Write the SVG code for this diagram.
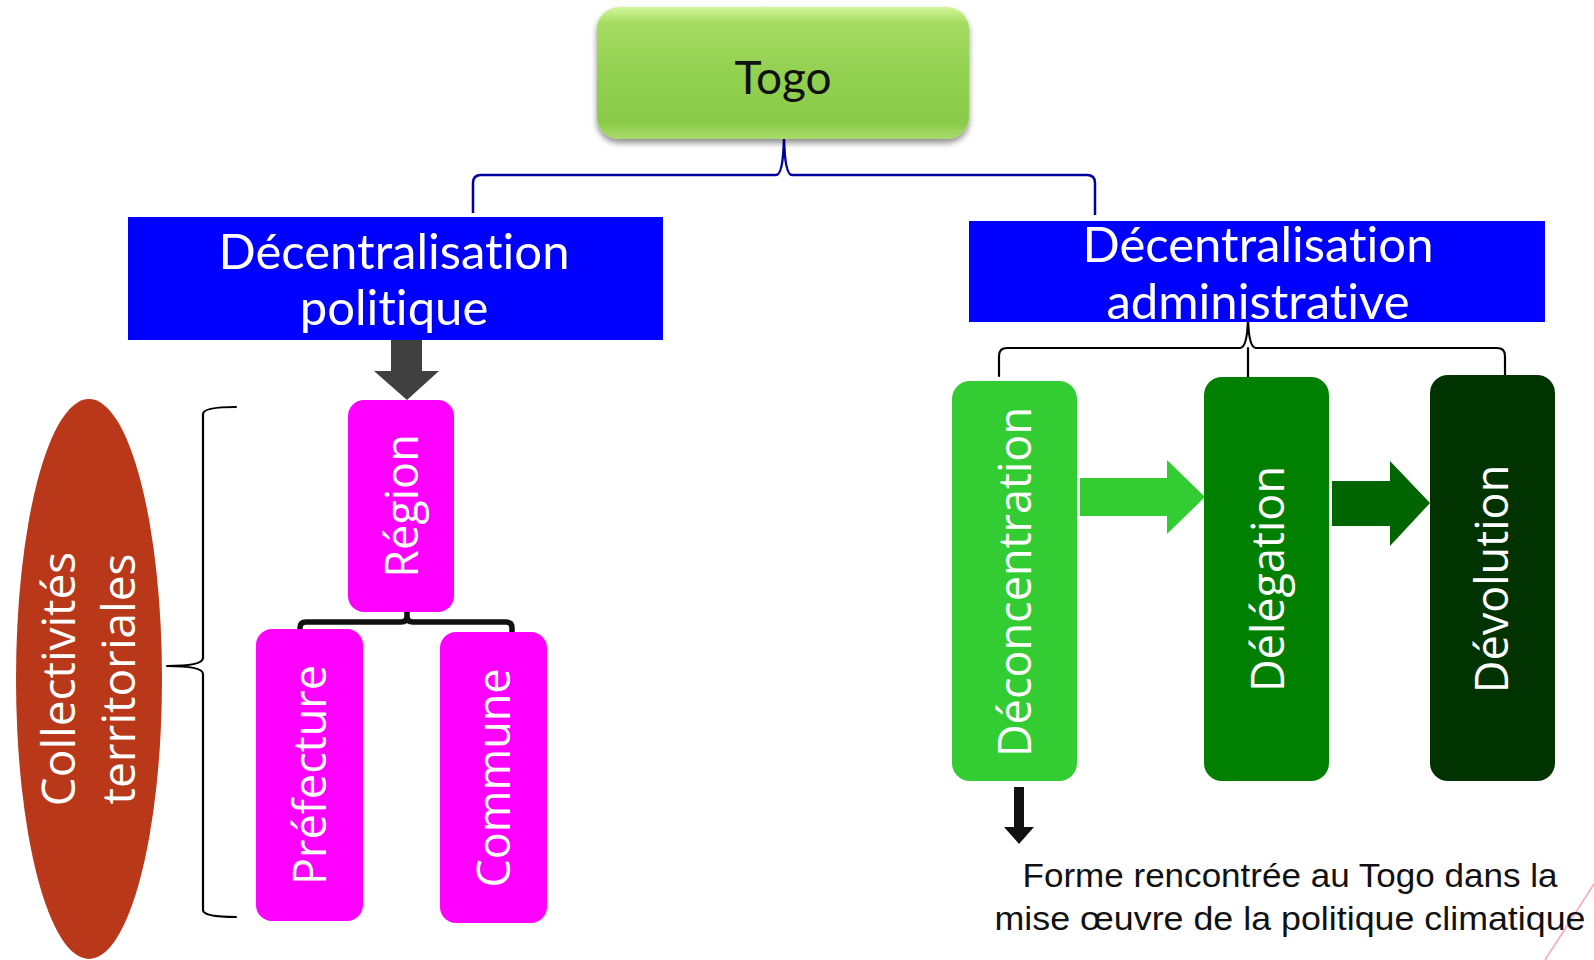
<svg xmlns="http://www.w3.org/2000/svg" width="1594" height="960" viewBox="0 0 1594 960">
<defs>
<linearGradient id="togoGrad" x1="0" y1="0" x2="0" y2="1">
<stop offset="0" stop-color="#D4F59A"/>
<stop offset="0.12" stop-color="#A6DC62"/>
<stop offset="0.5" stop-color="#92D050"/>
<stop offset="0.88" stop-color="#8CCB4A"/>
<stop offset="1" stop-color="#A8DC6A"/>
</linearGradient>
<filter id="shadow" x="-10%" y="-10%" width="120%" height="130%">
<feGaussianBlur in="SourceAlpha" stdDeviation="3"/>
<feOffset dx="0" dy="4"/>
<feComponentTransfer><feFuncA type="linear" slope="0.45"/></feComponentTransfer>
<feMerge><feMergeNode/><feMergeNode in="SourceGraphic"/></feMerge>
</filter>
<style>
text{font-variant-ligatures:none}
.blue{fill:#0000FF}
.bt{font-family:Lato,"Open Sans",sans-serif;font-size:49px;fill:#FFFFFF;text-anchor:middle}
.vt{font-family:"Open Sans","Noto Sans",sans-serif;font-size:45px;fill:#FFFFFF;text-anchor:middle}
.pink{fill:#FF00FF}
.thin{fill:none;stroke:#000000;stroke-width:2.2;stroke-linecap:round;stroke-linejoin:round}
.note{font-family:"Liberation Sans",sans-serif;font-size:34px;fill:#111111;text-anchor:middle}
</style>
</defs>
<rect width="1594" height="960" fill="#FFFFFF"/>

<g id="connectors">
<path d="M473,213 L473,183 Q473,175 481,175 L776,175 Q783,175 784,139 Q785,175 792,175 L1087,175 Q1095,175 1095,183 L1095,215" fill="none" stroke="#0000A0" stroke-width="2.5"/>
<path d="M391,340 L422,340 L422,371 L439,371 L407,400 L374,371 L391,371 Z" fill="#404040"/>
<path d="M407,605 L407,616 Q407,622 401,622 L306,622 Q300,622 300,628 L300,640 M407,616 Q407,622 413,622 L506,622 Q512,622 512,628 L512,640" fill="none" stroke="#111111" stroke-width="5.5" stroke-linecap="round" stroke-linejoin="round"/>
<path class="thin" d="M236,407 Q203,407 203,414 L203,658 Q203,666 167,666 Q203,666 203,674 L203,910 Q203,917 236,917"/>
<path class="thin" d="M999,376 L999,356 Q999,348 1007,348 L1240,348 Q1247,348 1248,320 Q1249,348 1256,348 L1497,348 Q1505,348 1505,356 L1505,376"/>
<path class="thin" d="M1248,348 L1248,378"/>
<path d="M1080,478 L1167,478 L1167,460 L1205,497 L1167,534 L1167,516 L1080,516 Z" fill="#33CC33"/>
<path d="M1332,481 L1390,481 L1390,461 L1430,503 L1390,546 L1390,526 L1332,526 Z" fill="#006400"/>
<path d="M1014,787 L1024,787 L1024,827 L1034,827 L1019,844 L1004,827 L1014,827 Z" fill="#111111"/>
<line x1="1594" y1="884" x2="1545" y2="960" stroke="#F4A8C8" stroke-width="1.5"/>
</g>

<g id="togo">
<rect x="597" y="7" width="372" height="132" rx="22" fill="url(#togoGrad)" filter="url(#shadow)"/>
<text x="783" y="94" style="font-family:Lato,'Open Sans',sans-serif;font-size:46px;fill:#111111;text-anchor:middle">Togo</text>
</g>

<g id="dec-politique">
<rect class="blue" x="128" y="217" width="535" height="123"/>
<text class="bt" x="394" y="269">Décentralisation</text>
<text class="bt" x="394" y="325">politique</text>
</g>

<g id="dec-administrative">
<rect class="blue" x="969" y="221" width="576" height="101"/>
<text class="bt" x="1258" y="262">Décentralisation</text>
<text class="bt" x="1258" y="319">administrative</text>
</g>

<g id="collectivites">
<ellipse cx="89" cy="679" rx="73" ry="280" fill="#B9381A"/>
<text class="vt" style="font-size:46px" transform="translate(89,679) rotate(-90)"><tspan x="0" y="-14">Collectivités</tspan><tspan x="0" y="46">territoriales</tspan></text>
</g>

<g id="region">
<rect class="pink" x="348" y="400" width="106" height="212" rx="16"/>
<text class="vt" transform="translate(402,506) rotate(-90)" y="16">Région</text>
</g>

<g id="prefecture">
<rect class="pink" x="256" y="629" width="107" height="292" rx="16"/>
<text class="vt" transform="translate(310,775) rotate(-90)" y="16">Préfecture</text>
</g>

<g id="commune">
<rect class="pink" x="440" y="632" width="107" height="291" rx="16"/>
<text class="vt" transform="translate(494,778) rotate(-90)" y="16">Commune</text>
</g>

<g id="deconcentration">
<rect x="952" y="381" width="125" height="400" rx="18" fill="#33CC33"/>
<text class="vt" transform="translate(1015,582) rotate(-90)" y="16">Déconcentration</text>
</g>

<g id="delegation">
<rect x="1204" y="377" width="125" height="404" rx="18" fill="#007F00"/>
<text class="vt" transform="translate(1268,579) rotate(-90)" y="16">Délégation</text>
</g>

<g id="devolution">
<rect x="1430" y="375" width="125" height="406" rx="18" fill="#003300"/>
<text class="vt" transform="translate(1492,579) rotate(-90)" y="16">Dévolution</text>
</g>

<g id="note">
<text class="note" x="1290" y="887" textLength="535" lengthAdjust="spacingAndGlyphs">Forme rencontrée au Togo dans la</text>
<text class="note" x="1290" y="930" textLength="591" lengthAdjust="spacingAndGlyphs">mise œuvre de la politique climatique</text>
</g>
</svg>
